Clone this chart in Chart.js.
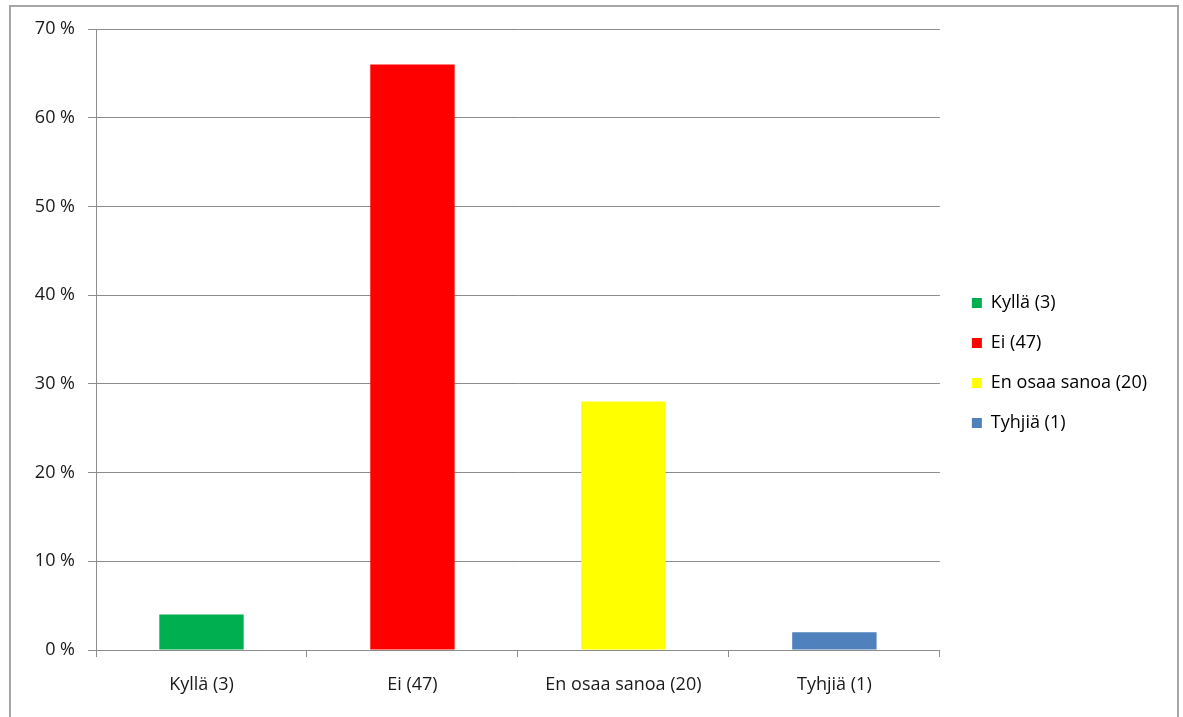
<!DOCTYPE html>
<html>
<head>
<meta charset="utf-8">
<script src="https://cdn.jsdelivr.net/npm/chart.js@4/dist/chart.umd.min.js"></script>
<style>
  html, body { margin: 0; padding: 0; background: #fff; overflow: hidden; }
  #frame {
    position: absolute; left: 9px; top: 5px; width: 1166px; height: 800px;
    border: 2px solid #a6a6a6;
  }
  #wrap { position: absolute; left: 0; top: 0; width: 1183px; height: 717px; }
</style>
</head>
<body>
<div id="frame"></div>
<div id="wrap"><canvas id="chart" width="1183" height="717"></canvas></div>
<script>
// Survey answers: share of respondents (%)
const categories = ['Kyllä (3)', 'Ei (47)', 'En osaa sanoa (20)', 'Tyhjiä (1)'];
const shares = [4, 66, 28, 2];
const barColors = ['#00B050', '#FF0000', '#FFFF00', '#4F81BD'];
const yMax = 70;
const yStep = 10;

const gridColor = '#8c8c8c';
const textColor = '#1a1a1a';
const fontFamily = '"Open Sans", Lato, sans-serif';
const fontSize = 18;

const ctx = document.getElementById('chart');

new Chart(ctx, {
    type: 'bar',
    data: {
        labels: categories,
        datasets: [{
            label: 'Vastaukset',
            data: shares,
            backgroundColor: barColors,
            borderWidth: 0,
            barPercentage: 0.4,
            categoryPercentage: 1.0
        }]
    },
    options: {
        responsive: false,
        animation: false,
        layout: {
            padding: { top: 29, bottom: 20, left: 0, right: 26 }
        },
        plugins: {
            tooltip: { enabled: false },
            legend: {
                position: 'right',
                align: 'center',
                labels: {
                    color: textColor,
                    font: { family: fontFamily, size: fontSize },
                    boxWidth: 10,
                    boxHeight: 10,
                    padding: 22,
                    // one legend entry per category
                    generateLabels: function(chart) {
                        return categories.map((c, i) => ({
                            text: c,
                            fillStyle: barColors[i],
                            strokeStyle: barColors[i],
                            lineWidth: 0,
                            hidden: false,
                            index: i
                        }));
                    }
                },
                onClick: null
            }
        },
        scales: {
            x: {
                grid: {
                    display: true,
                    drawOnChartArea: false,
                    drawTicks: true,
                    tickLength: 7,
                    color: gridColor,
                    offset: true
                },
                border: { color: gridColor, width: 1 },
                ticks: {
                    color: textColor,
                    font: { family: fontFamily, size: fontSize },
                    padding: 17,
                    maxRotation: 0
                },
                afterFit: function(scale) { scale.height = 47; }
            },
            y: {
                min: 0,
                max: yMax,
                grid: {
                    color: gridColor,
                    tickLength: 8
                },
                border: { color: gridColor, width: 1 },
                ticks: {
                    stepSize: yStep,
                    color: textColor,
                    font: { family: fontFamily, size: fontSize },
                    padding: 13,
                    callback: function(value) {
                        return value + ' %';
                    }
                },
                afterFit: function(scale) { scale.width = 96; }
            },
            // hidden spacer between plot area and legend
            gap: {
                type: 'linear',
                position: 'right',
                display: false,
                afterFit: function(scale) { scale.width = 10; }
            }
        }
    }
});
</script>
</body>
</html>
